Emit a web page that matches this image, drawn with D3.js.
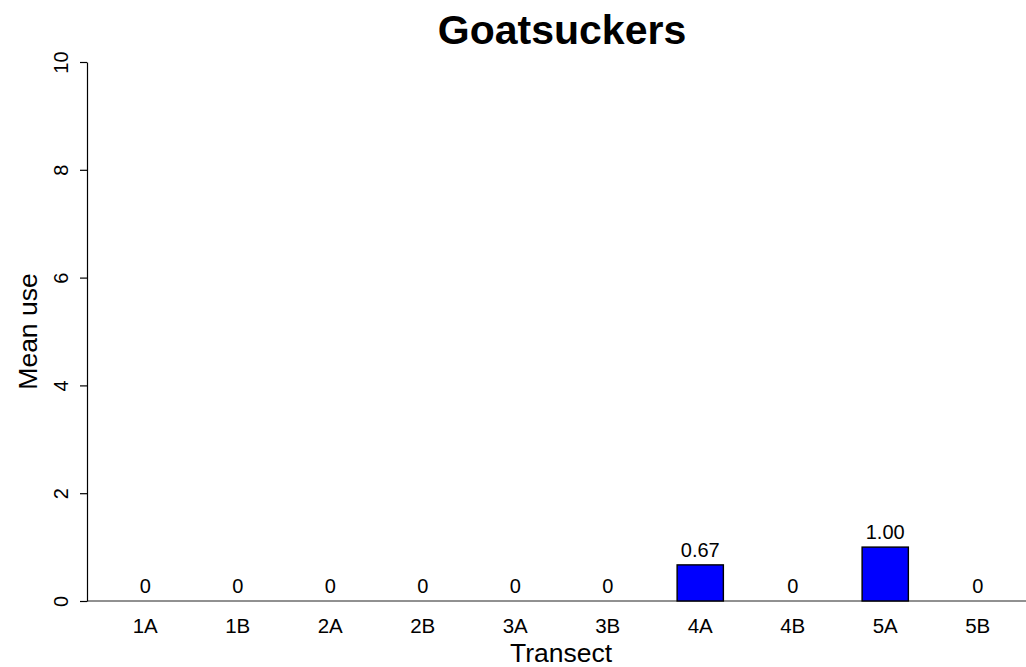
<!DOCTYPE html>
<html>
<head>
<meta charset="utf-8">
<script src="https://cdn.jsdelivr.net/npm/d3@7"></script>
<style>
  body { margin: 0; background: #fff; }
  text { font-family: "Liberation Sans", Arial, sans-serif; fill: #000; }
</style>
</head>
<body>
<div id="chart"></div>
<script>
const transects = ["1A", "1B", "2A", "2B", "3A", "3B", "4A", "4B", "5A", "5B"];
const meanUse = [0, 0, 0, 0, 0, 0, 0.67, 0, 1.00, 0];
const yTicks = [0, 2, 4, 6, 8, 10];

var width = 1026,
    height = 667;

var svg = d3.select("#chart").append("svg")
    .attr("width", width)
    .attr("height", height);

// barplot-style units: bar i spans [1+2i, 2+2i], plus 4% padding
const x = d3.scaleLinear().domain([0.24, 20.76]).range([87, 1036]);
const y = d3.scaleLinear().domain([0, 10]).range([601, 62]);

const data = transects.map((t, i) => ({ t: t, v: meanUse[i], l: 1 + 2 * i }));

// baseline
svg.append("line")
    .attr("x1", x(0.24)).attr("x2", width)
    .attr("y1", y(0)).attr("y2", y(0))
    .attr("stroke", "#222").attr("stroke-width", 1);

svg.append("g")
  .selectAll("rect")
  .data(data)
  .join("rect")
    .attr("x", d => x(d.l))
    .attr("width", d => x(d.l + 1) - x(d.l))
    .attr("y", d => y(d.v))
    .attr("height", d => y(0) - y(d.v))
    .attr("fill", "#0000ff")
    .attr("stroke", "#000")
    .attr("stroke-width", 1.4);

// value labels
svg.append("g")
  .selectAll("text")
  .data(data)
  .join("text")
    .attr("x", d => x(d.l + 0.5))
    .attr("y", d => y(d.v) - 8)
    .attr("text-anchor", "middle")
    .attr("font-size", 20)
    .text(d => d.v === 0 ? "0" : d.v.toFixed(2));

// x labels
svg.append("g")
  .selectAll("text")
  .data(data)
  .join("text")
    .attr("x", d => x(d.l + 0.5))
    .attr("y", 633)
    .attr("text-anchor", "middle")
    .attr("font-size", 20.5)
    .text(d => d.t);

// y axis
const yAxis = svg.append("g")
    .attr("transform", "translate(" + x(0.24) + ",0)")
    .call(d3.axisLeft(y).tickValues(yTicks).tickSize(7).tickSizeOuter(0).tickFormat(d3.format("d")));
yAxis.select(".domain").attr("stroke", "#000").attr("stroke-width", 1.2);
yAxis.selectAll(".tick line").attr("stroke", "#000").attr("stroke-width", 1.2);
yAxis.selectAll(".tick text")
    .attr("font-size", 20)
    .attr("font-family", "Liberation Sans, Arial, sans-serif")
    .attr("fill", "#000")
    .attr("x", null).attr("dy", null)
    .attr("text-anchor", "middle")
    .attr("transform", "translate(-19,0) rotate(-90)");

svg.append("text")
    .attr("transform", "translate(37," + y(5) + ") rotate(-90)")
    .attr("text-anchor", "middle")
    .attr("font-size", 26.5)
    .text("Mean use");

svg.append("text")
    .attr("x", 561).attr("y", 662)
    .attr("text-anchor", "middle")
    .attr("font-size", 26.5)
    .text("Transect");

svg.append("text")
    .attr("x", 562).attr("y", 44)
    .attr("text-anchor", "middle")
    .attr("font-size", 41)
    .attr("font-weight", "bold")
    .text("Goatsuckers");
</script>
</body>
</html>
